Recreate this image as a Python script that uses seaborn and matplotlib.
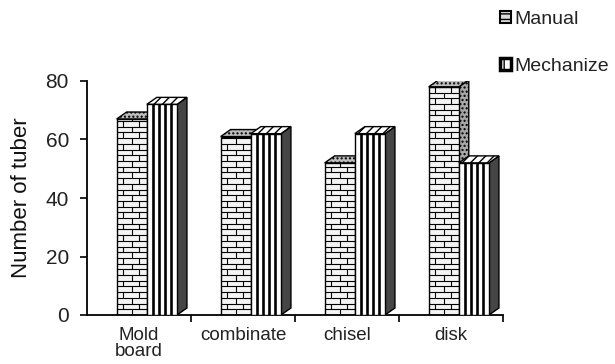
import matplotlib
matplotlib.use("Agg")
import matplotlib.pyplot as plt
from matplotlib.patches import Polygon, Patch
from matplotlib.collections import LineCollection
import seaborn as sns
import pandas as pd
import numpy as np

# --- data -------------------------------------------------------------
tillage = ["Mold\nboard", "combinate", "chisel", "disk"]
manual = [67, 61, 52, 78]
mechanize = [72, 62, 62, 52]
series = ["Manual", "Mechanize"]
y_ticks = [0, 20, 40, 60, 80]

df = pd.DataFrame({
    "tillage": tillage * 2,
    "tuber": manual + mechanize,
    "type": [series[0]] * len(tillage) + [series[1]] * len(tillage),
})

# --- figure -----------------------------------------------------------
sns.set_theme(style="white")
plt.rcParams["font.family"] = ["Liberation Sans", "DejaVu Sans"]

fig = plt.figure(figsize=(6.15, 3.64), dpi=100)
ax = fig.add_axes([87 / 615, 49 / 364, 416 / 615, 234 / 364])

sns.barplot(data=df, x="tillage", y="tuber", hue="type", hue_order=series,
            order=tillage, width=0.58, dodge=True, legend=False,
            palette=["white", "white"], edgecolor="black", linewidth=1.0,
            errorbar=None, ax=ax)

ax.set_ylim(0, 80)
ax.set_xlim(-0.5, 3.5)

# pseudo-3D depth of the columns, in data units
DX, DY = 0.096, 2.4
SHIFT = 0.075
COURSE = 1.95          # brick course height
STRIPE = 0.058         # spacing of vertical stripes


def shift_bar(bar):
    bar.set_x(bar.get_x() + SHIFT)


def faces(bar):
    x0, y0 = bar.get_x(), bar.get_y()
    x1, y1 = x0 + bar.get_width(), y0 + bar.get_height()
    side = [(x1, y0), (x1 + DX, y0 + DY), (x1 + DX, y1 + DY), (x1, y1)]
    top = [(x0, y1), (x1, y1), (x1 + DX, y1 + DY), (x0 + DX, y1 + DY)]
    return side, top


man_bars = list(ax.containers[0])
mech_bars = list(ax.containers[1])

for bar in man_bars:
    shift_bar(bar)
    bar.set_facecolor("#f4f4f4")
    bar.set_zorder(2)
    side, top = faces(bar)
    ax.add_patch(Polygon(side, closed=True, facecolor="#a8a8a8", edgecolor="black",
                         hatch="....", lw=1.0, zorder=1.8))
    ax.add_patch(Polygon(top, closed=True, facecolor="#bdbdbd", edgecolor="black",
                         hatch="....", lw=1.0, zorder=1.8))
    # brick courses on the front face
    x0, x1 = bar.get_x(), bar.get_x() + bar.get_width()
    h = bar.get_height()
    w = x1 - x0
    segs = []
    n = int(h / COURSE)
    for i in range(n + 1):
        yb = i * COURSE
        segs.append([(x0, yb), (x1, yb)])
        yt = min(yb + COURSE, h)
        if i % 2 == 0:
            joints = [x0 + 0.5 * w]
        else:
            joints = [x0 + 0.22 * w, x0 + 0.74 * w]
        for xj in joints:
            segs.append([(xj, yb), (xj, yt)])
    lc = LineCollection(segs, colors="black", linewidths=0.8, zorder=2.1)
    ax.add_collection(lc)
    lc.set_clip_path(bar)

for bar in mech_bars:
    shift_bar(bar)
    bar.set_facecolor("white")
    bar.set_zorder(3)
    side, top = faces(bar)
    ax.add_patch(Polygon(side, closed=True, facecolor="#454545", edgecolor="black",
                         lw=1.0, zorder=2.6))
    ax.add_patch(Polygon(top, closed=True, facecolor="white", edgecolor="black",
                         hatch="////", lw=1.0, zorder=2.6))
    x0, x1 = bar.get_x(), bar.get_x() + bar.get_width()
    h = bar.get_height()
    segs = [[(x, 0), (x, h)] for x in np.arange(x0 + STRIPE, x1 - 0.01, STRIPE)]
    lc = LineCollection(segs, colors="black", linewidths=1.9, zorder=3.1)
    ax.add_collection(lc)
    lc.set_clip_path(bar)

# --- axes styling -----------------------------------------------------
for s in ["top", "right"]:
    ax.spines[s].set_visible(False)
for s in ["left", "bottom"]:
    ax.spines[s].set_color("black")
    ax.spines[s].set_linewidth(1.3)

ax.set_yticks(y_ticks)
ax.tick_params(axis="y", direction="out", length=5, width=1.2, color="black",
               labelsize=15, labelcolor="#222222", left=True, pad=8)
ax.set_xticks(range(len(tillage)))
ax.set_xticklabels(tillage, fontsize=13.5, color="#222222", linespacing=0.9)
ax.tick_params(axis="x", length=0, pad=9)
ax.set_xticks([0.5, 1.5, 2.5, 3.5], minor=True)
ax.tick_params(axis="x", which="minor", direction="out", length=5, width=1.2,
               color="black", bottom=True)

ax.set_xlabel("")
ax.set_ylabel("Number of tuber", fontsize=16, color="#111111", labelpad=10)

# --- legend -----------------------------------------------------------
handles = [
    Patch(facecolor="#dcdcdc", edgecolor="black", hatch="---", lw=1.5),
    Patch(facecolor="white", edgecolor="black", hatch="||", lw=2.5),
]
fig.legend(handles, series, loc="upper left", bbox_to_anchor=(492 / 615, 1 - 3 / 364),
           frameon=False, fontsize=14, labelcolor="#222222",
           handlelength=0.6, handleheight=0.6, handletextpad=0.15,
           labelspacing=1.55, borderaxespad=0)

fig.savefig("out.png", dpi=100)
